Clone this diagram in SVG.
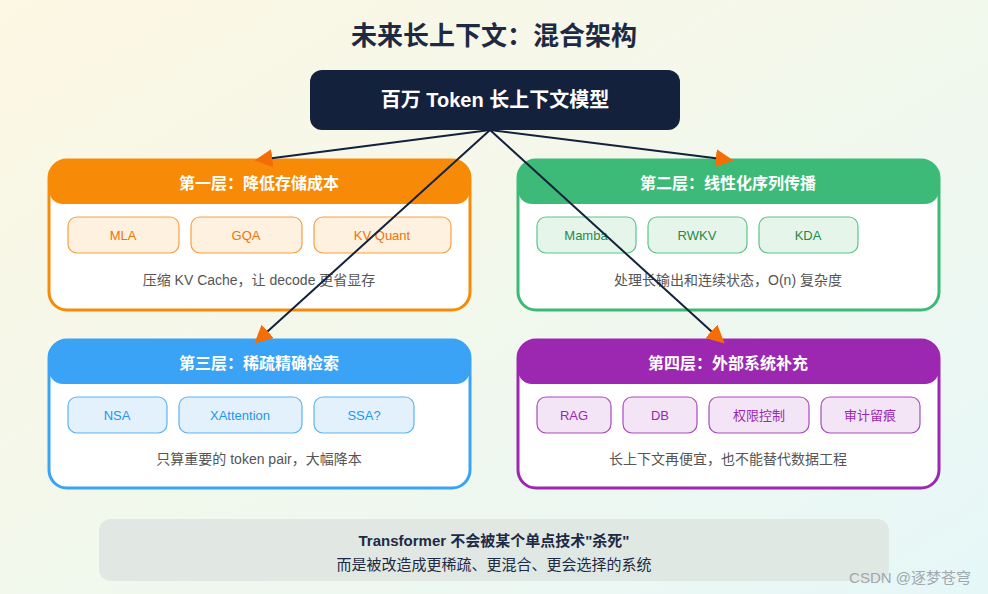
<svg xmlns="http://www.w3.org/2000/svg" width="988" height="594" viewBox="0 0 988 594">
<defs>
<linearGradient id="bg" x1="0" y1="0" x2="1" y2="1"><stop offset="0" stop-color="#fdf7e3"/><stop offset="0.5" stop-color="#f2f8ec"/><stop offset="1" stop-color="#e6f7f8"/></linearGradient>
<marker id="ar" viewBox="0 0 10 10" refX="9" refY="5" markerWidth="9" markerHeight="9" markerUnits="userSpaceOnUse" orient="auto"><path d="M0,0L10,5L0,10z" fill="#f46d06"/></marker>
<marker id="arr" viewBox="0 0 10 10" refX="8" refY="5" markerWidth="18" markerHeight="18" markerUnits="userSpaceOnUse" orient="auto"><path d="M0,0L10,5L0,10z" fill="#f46d06"/></marker>
<style>
text{font-family:"Liberation Sans","Noto Sans CJK SC",sans-serif;text-anchor:middle}
.hd{font-size:16px;font-weight:bold;fill:#fff}
.pl{font-size:13px}
.ds{font-size:14px;fill:#555}
.card{fill:#fff;stroke-width:3}
.con{stroke:#14213d;stroke-width:2;fill:none;marker-end:url(#arr)}
</style>
</defs>
<rect width="988" height="594" fill="url(#bg)"/>
<text x="494" y="45" font-size="26" font-weight="bold" fill="#1e2a44">未来长上下文：混合架构</text>
<g id="top"><rect x="310" y="70" width="370" height="60" rx="12" fill="#14213d"/><text x="495" y="107" font-size="20" font-weight="bold" fill="#fff">百万 Token 长上下文模型</text></g>
<g id="layer1">
<rect class="card" x="49" y="160" width="421" height="150" rx="18" stroke="#f78b08"/>
<path d="M67,160H452A18,18 0 0 1 470,178V190A14,14 0 0 1 456,204H63A14,14 0 0 1 49,190V178A18,18 0 0 1 67,160z" fill="#f78b08"/>
<text class="hd" x="259" y="189">第一层：降低存储成本</text>
<g fill="#fff1e0" stroke="#f7a040" stroke-width="1.2"><rect x="68" y="217" width="111" height="36" rx="9"/><rect x="191" y="217" width="111" height="36" rx="9"/><rect x="314" y="217" width="137" height="36" rx="9"/></g>
<g class="pl" fill="#f07306"><text x="123" y="240">MLA</text><text x="246" y="240">GQA</text><text x="382" y="240">KV Quant</text></g>
<text class="ds" x="259" y="285">压缩 KV Cache，让 decode 更省显存</text>
</g>
<g id="layer2">
<rect class="card" x="518" y="160" width="421" height="150" rx="18" stroke="#3dba78"/>
<path d="M536,160H921A18,18 0 0 1 939,178V190A14,14 0 0 1 925,204H532A14,14 0 0 1 518,190V178A18,18 0 0 1 536,160z" fill="#3dba78"/>
<text class="hd" x="728" y="189">第二层：线性化序列传播</text>
<g fill="#e6f5ea" stroke="#5cc48a" stroke-width="1.2"><rect x="537" y="217" width="99" height="36" rx="9"/><rect x="648" y="217" width="99" height="36" rx="9"/><rect x="759" y="217" width="99" height="36" rx="9"/></g>
<g class="pl" fill="#1f8a4c"><text x="586" y="240">Mamba</text><text x="697" y="240">RWKV</text><text x="808" y="240">KDA</text></g>
<text class="ds" x="728" y="285">处理长输出和连续状态，O(n) 复杂度</text>
</g>
<g id="layer3">
<rect class="card" x="49" y="340" width="421" height="148" rx="18" stroke="#3aa3f5"/>
<path d="M67,340H452A18,18 0 0 1 470,358V370A14,14 0 0 1 456,384H63A14,14 0 0 1 49,370V358A18,18 0 0 1 67,340z" fill="#3aa3f5"/>
<text class="hd" x="259" y="369">第三层：稀疏精确检索</text>
<g fill="#e3f1fd" stroke="#5cb3f5" stroke-width="1.2"><rect x="68" y="397" width="99" height="36" rx="9"/><rect x="179" y="397" width="123" height="36" rx="9"/><rect x="314" y="397" width="100" height="36" rx="9"/></g>
<g class="pl" fill="#2196f3"><text x="117" y="420">NSA</text><text x="240" y="420">XAttention</text><text x="364" y="420">SSA?</text></g>
<text class="ds" x="259" y="464">只算重要的 token pair，大幅降本</text>
</g>
<g id="layer4">
<rect class="card" x="518" y="340" width="421" height="148" rx="18" stroke="#9c27b0"/>
<path d="M536,340H921A18,18 0 0 1 939,358V370A14,14 0 0 1 925,384H532A14,14 0 0 1 518,370V358A18,18 0 0 1 536,340z" fill="#9c27b0"/>
<text class="hd" x="728" y="369">第四层：外部系统补充</text>
<g fill="#f3e4f6" stroke="#a84bbd" stroke-width="1.2"><rect x="537" y="397" width="74" height="36" rx="9"/><rect x="623" y="397" width="74" height="36" rx="9"/><rect x="709" y="397" width="100" height="36" rx="9"/><rect x="821" y="397" width="99" height="36" rx="9"/></g>
<g class="pl" fill="#9c27b0"><text x="574" y="420">RAG</text><text x="660" y="420">DB</text><text x="759" y="420">权限控制</text><text x="870" y="420">审计留痕</text></g>
<text class="ds" x="728" y="464">长上下文再便宜，也不能替代数据工程</text>
</g>
<g id="connectors">
<line class="con" x1="490" y1="130" x2="258" y2="160"/>
<line class="con" x1="490" y1="130" x2="730" y2="160"/>
<line class="con" x1="490" y1="130" x2="257" y2="341"/>
<line class="con" x1="490" y1="130" x2="722" y2="341"/>
</g>
<g id="summary">
<rect x="99" y="519" width="790" height="62" rx="12" fill="#dfe6e2" opacity="0.9"/>
<text x="494" y="546" font-size="15" font-weight="bold" fill="#1e2a44">Transformer 不会被某个单点技术"杀死"</text>
<text x="494" y="570" font-size="15" fill="#1e2a44">而是被改造成更稀疏、更混合、更会选择的系统</text>
</g>
<text x="910" y="583" font-size="15" fill="#9aa0a6" opacity="0.9">CSDN @逐梦苍穹</text>
</svg>
